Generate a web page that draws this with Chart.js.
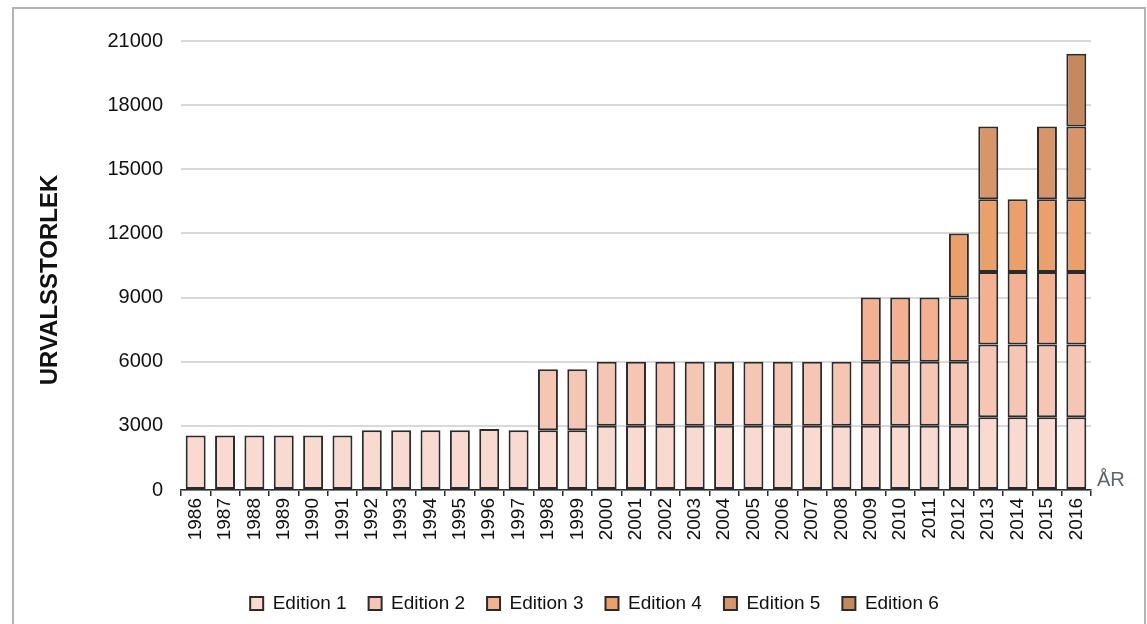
<!DOCTYPE html>
<html lang="sv">
<head>
  <meta charset="UTF-8" />
  <title>Urvalsstorlek per år</title>
  <script src="https://cdn.jsdelivr.net/npm/chart.js"></script>
  <style>
    * { box-sizing: border-box; margin: 0; padding: 0; }
    html, body { width: 1147px; height: 624px; overflow: hidden; background: #fff; }
    /* grey frame around the figure */
    .frame {
      position: absolute; left: 12px; top: 7px; width: 1134px; height: 700px;
      border: 2px solid #b4b4b4;
    }
    #wrap { position: absolute; left: 0; top: 0; width: 1147px; height: 624px; }
  </style>
</head>
<body>
  <div class="frame"></div>
  <div id="wrap"><canvas id="chart" width="1147" height="624"></canvas></div>

  <script>
    // Years on the x axis
    const years = ['1986','1987','1988','1989','1990','1991','1992','1993','1994','1995',
                   '1996','1997','1998','1999','2000','2001','2002','2003','2004','2005',
                   '2006','2007','2008','2009','2010','2011','2012','2013','2014','2015','2016'];

    // Sample size per edition, null = edition not in use
    const edition1 = [2550,2550,2550,2550,2550,2550,2800,2800,2800,2800,
                      2850,2800,2800,2800,3000,3000,3000,3000,3000,3000,
                      3000,3000,3000,3000,3000,3000,3000,3400,3400,3400,3400];
    const edition2 = [null,null,null,null,null,null,null,null,null,null,
                      null,null,2850,2850,3000,3000,3000,3000,3000,3000,
                      3000,3000,3000,3000,3000,3000,3000,3400,3400,3400,3400];
    const edition3 = [null,null,null,null,null,null,null,null,null,null,
                      null,null,null,null,null,null,null,null,null,null,
                      null,null,null,3000,3000,3000,3000,3400,3400,3400,3400];
    const edition4 = [null,null,null,null,null,null,null,null,null,null,
                      null,null,null,null,null,null,null,null,null,null,
                      null,null,null,null,null,null,3000,3400,3400,3400,3400];
    const edition5 = [null,null,null,null,null,null,null,null,null,null,
                      null,null,null,null,null,null,null,null,null,null,
                      null,null,null,null,null,null,null,3400,null,3400,3400];
    const edition6 = [null,null,null,null,null,null,null,null,null,null,
                      null,null,null,null,null,null,null,null,null,null,
                      null,null,null,null,null,null,null,null,null,null,3400];

    const yTicks = [0, 3000, 6000, 9000, 12000, 15000, 18000, 21000];

    const fontFamily = "'Liberation Sans', Arial, sans-serif";
    const series = [
      { label: 'Edition 1', data: edition1, color: '#f8dad0' },
      { label: 'Edition 2', data: edition2, color: '#f6c6b5' },
      { label: 'Edition 3', data: edition3, color: '#f3b192' },
      { label: 'Edition 4', data: edition4, color: '#eba06c' },
      { label: 'Edition 5', data: edition5, color: '#d8956a' },
      { label: 'Edition 6', data: edition6, color: '#c48a5e' }
    ];

    // axis captions: "URVALSSTORLEK" at the left, "ÅR" at the right end of the x axis
    const axisNotes = {
      id: 'axisNotes',
      afterDraw(chart) {
        const ctx = chart.ctx;
        const y0 = chart.scales.y.getPixelForValue(0);
        ctx.save();
        ctx.font = '20px ' + fontFamily;
        ctx.fillStyle = '#5f6470';
        ctx.textAlign = 'left';
        ctx.textBaseline = 'middle';
        ctx.fillText('ÅR', chart.chartArea.right + 6, y0 - 10);

        ctx.translate(50, 280);
        ctx.rotate(-Math.PI / 2);
        ctx.font = 'bold 24px ' + fontFamily;
        ctx.fillStyle = '#111';
        ctx.textAlign = 'center';
        ctx.fillText('URVALSSTORLEK', 0, 0);
        ctx.restore();
      }
    };

    new Chart(document.getElementById('chart'), {
      type: 'bar',
      data: {
        labels: years,
        datasets: series.map(s => ({
          label: s.label,
          data: s.data,
          backgroundColor: s.color,
          borderColor: '#2b2b2b',
          borderWidth: 2,
          borderSkipped: false,
          barPercentage: 0.68,
          categoryPercentage: 1.0
        }))
      },
      options: {
        responsive: false,
        animation: false,
        layout: { padding: { left: 98, right: 56, top: 41, bottom: 1 } },
        plugins: {
          tooltip: { enabled: false },
          legend: {
            position: 'bottom',
            labels: {
              color: '#111',
              font: { family: fontFamily, size: 19 },
              boxWidth: 13,
              boxHeight: 13,
              padding: 22
            }
          }
        },
        scales: {
          x: {
            stacked: true,
            afterFit: s => { s.height = 82; },
            grid: {
              offset: true,
              drawOnChartArea: false,
              color: '#2b2b2b',
              lineWidth: 1.5,
              tickLength: 6
            },
            border: { color: '#2b2b2b', width: 1.5 },
            ticks: {
              color: '#111',
              font: { family: fontFamily, size: 19 },
              minRotation: 90,
              maxRotation: 90,
              autoSkip: false,
              padding: 2
            }
          },
          y: {
            stacked: true,
            min: 0,
            max: 21000,
            afterFit: s => { s.width = 83; },
            afterBuildTicks: s => { s.ticks = yTicks.map(v => ({ value: v })); },
            grid: { color: '#d9d9d9', lineWidth: 2, drawTicks: false },
            border: { display: false },
            ticks: {
              color: '#111',
              font: { family: fontFamily, size: 20 },
              padding: 18,
              callback: v => String(v)
            }
          }
        }
      },
      plugins: [axisNotes]
    });
  </script>
</body>
</html>
